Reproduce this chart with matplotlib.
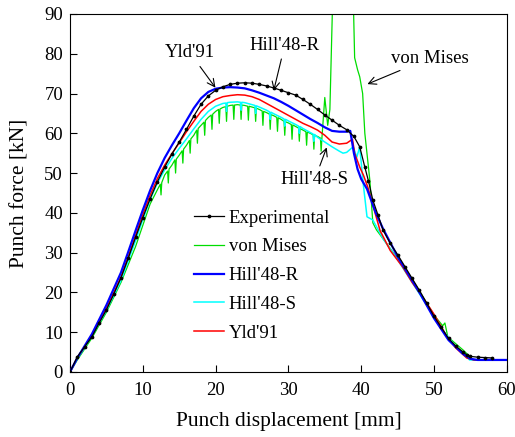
import numpy as np
import matplotlib.pyplot as plt

plt.rcParams['font.family'] = ['Liberation Serif', 'DejaVu Serif']

# Experimental punch force curve
exp_x = [0, 1, 2, 3, 4, 5, 6, 7, 8, 9, 10, 11, 12, 13, 14, 15, 16, 17, 18, 19,
         20, 21, 22, 23, 24, 25, 26, 27, 28, 29, 30, 31, 32, 33, 34, 35, 36, 37,
         38, 39, 39.8, 40.5, 41, 41.6, 42.3, 43, 44, 45, 46, 47, 48, 49, 50, 51,
         52, 53, 54, 54.5, 55, 56, 57, 58]
exp_y = [0, 3.8, 6.3, 8.8, 12.3, 15.6, 19.5, 23.7, 28.6, 33.8, 38.8, 43.5, 47.8,
         51.5, 54.8, 57.8, 61, 64.3, 67.3, 69.4, 70.8, 71.7, 72.3, 72.6, 72.7,
         72.6, 72.3, 71.9, 71.4, 70.8, 70.2, 69.6, 68.5, 67.3, 66, 64.6, 63.3,
         62, 60.9, 59.2, 56.6, 51.5, 48, 43.2, 39.5, 35.7, 32.3, 29.5, 26.5,
         23.5, 20.5, 17.3, 14, 11.2, 8.4, 6.5, 5, 4.3, 3.9, 3.7, 3.6, 3.5]

# von Mises (noisy, spikes off the top of the axes)
vm_x = [0, 1, 3, 5, 7, 9, 11, 12,
        12.4, 12.5, 12.6, 13, 13.4, 13.5, 13.6, 14, 14.4, 14.5, 14.6, 15,
        15.4, 15.5, 15.6, 16, 16.4, 16.5, 16.6, 17, 17.4, 17.5, 17.6, 18,
        18.4, 18.5, 18.6, 19, 19.4, 19.5, 19.6, 20, 20.4, 20.5, 20.6, 21,
        21.4, 21.5, 21.6, 22, 22.4, 22.5, 22.6, 23, 23.4, 23.5, 23.6, 24,
        24.4, 24.5, 24.6, 25, 25.4, 25.5, 25.6, 26, 26.4, 26.5, 26.6, 27,
        27.4, 27.5, 27.6, 28, 28.4, 28.5, 28.6, 29, 29.4, 29.5, 29.6, 30,
        30.4, 30.5, 30.6, 31, 31.4, 31.5, 31.6, 32, 32.4, 32.5, 32.6, 33,
        33.4, 33.5, 33.6, 34, 34.4, 34.5, 34.6, 35, 35.4, 35.7, 36.1, 36.6,
        38.4, 38.9, 39.1, 39.5, 39.8, 40.2, 40.5, 41.2, 41.6, 42.1, 44, 46, 48,
        50, 51.2, 51.5, 51.9, 54, 55.4, 60]
vm_y = [0, 3, 8.5, 15, 22.5, 31.5, 42.2, 45.8,
        47.2, 44.5, 47.6, 49.5, 50.5, 47.5, 51, 52, 53.3, 50, 53.5, 54.5,
        55.6, 52.5, 56, 57, 58.2, 55, 58.6, 59.5, 60.8, 57.5, 61.2, 62,
        62.8, 59.5, 63.2, 64, 64.6, 61, 64.8, 65.5, 66, 62.5, 66.1, 66.5,
        66.7, 63, 66.8, 67, 67.1, 63.5, 67.1, 67.2, 67.1, 63.5, 67.1, 67,
        66.8, 63.3, 66.8, 66.6, 66.4, 63, 66.3, 66, 65.6, 62, 65.5, 65.2,
        64.8, 61, 64.7, 64.4, 64, 60.5, 63.9, 63.5, 63, 59.5, 62.9, 62.6,
        62.2, 58.5, 62.1, 61.7, 61.3, 58, 61.2, 60.8, 60.4, 57, 60.3, 60,
        59.6, 56, 59.5, 59.2, 58.8, 55.5, 58.7, 69, 62, 66, 95, 130,
        130, 95, 79, 76, 74.2, 70, 60, 48, 37.5, 35.7, 31, 26, 20.3,
        14.3, 11.6, 12.3, 8.8, 5.5, 3.0, 3.0]

# Hill'48-R
hr_x = [0, 1, 3, 5, 7, 8, 9, 10, 11, 12, 13, 14, 15, 16, 17, 18, 19, 20, 21, 22,
        23, 24, 25, 26, 27, 28, 29, 30, 31, 32, 33, 34, 35, 36, 37, 38, 38.5,
        39, 39.5, 40, 40.8, 42, 43, 44, 45, 46, 48, 50, 52, 54, 55, 56, 60]
hr_y = [0, 3.5, 9.5, 16.8, 25, 30.2, 35.5, 40.7, 45.6, 50, 53.8, 57, 60, 63.2,
        66.3, 68.8, 70.4, 71.2, 71.5, 71.6, 71.5, 71.3, 70.8, 70.2, 69.5, 68.8,
        67.9, 66.9, 65.8, 64.7, 63.6, 62.6, 61.5, 60.6, 60.4, 60.4, 60.6, 55,
        51, 48.5, 46, 40, 36, 32.5, 29, 26, 20, 13.5, 8, 4.5, 3.3, 3, 3]

# Hill'48-S
hs_x = [0, 1, 3, 5, 7, 9, 10, 11, 12, 13, 14, 15, 16, 17, 18, 19, 20, 21,
        21.4, 21.5, 21.6, 22, 23, 23.4, 23.5, 23.6, 24, 25, 25.4, 25.5, 25.6,
        26, 27, 27.4, 27.5, 27.6, 28, 29, 29.4, 29.5, 29.6, 30, 31, 31.4,
        31.5, 31.6, 32, 33, 33.4, 33.5, 33.6, 34, 35, 36, 37, 37.5, 38, 38.9,
        39.4, 39.8, 40.3, 40.8, 41.6, 43, 44.9, 47, 49, 51, 53, 54.9, 60]
hs_y = [0, 3.3, 9, 15.5, 23, 33, 38.3, 43.3, 47.5, 50.8, 53.7, 56.2, 58.6, 61.1,
        63.5, 65.5, 66.8, 67.5, 67.6, 65.5, 67.7, 67.8, 67.9, 67.8, 65.8,
        67.8, 67.7, 67.2, 67, 65, 66.9, 66.6, 65.8, 65.4, 63.5, 65.3, 64.9,
        64, 63.6, 61.8, 63.5, 63.1, 62.2, 61.8, 60, 61.7, 61.2, 60.2, 59.8,
        58, 59.7, 59, 57.8, 56.6, 55.5, 55, 55.2, 56.6, 54, 56.6, 47, 39, 38.2,
        33.5, 28.5, 22.5, 16.8, 11, 6.3, 3, 3]

# Yld'91
yl_x = [0, 1, 3, 5, 7, 8, 9, 10, 11, 12, 13, 14, 15, 16, 17, 18, 19, 20, 21, 22,
        23, 24, 25, 26, 27, 28, 29, 30, 31, 32, 33, 34, 35, 36, 37, 38, 38.8,
        39.1, 39.8, 40.3, 40.9, 42.6, 44, 45.7, 47, 49, 50, 51.8, 53, 54.5,
        55.5, 60]
yl_y = [0, 3.5, 9.2, 16, 23.8, 29, 34.3, 39.6, 44.4, 48.6, 52, 54.9, 57.6, 60.4,
        63, 65.5, 67.3, 68.5, 69.2, 69.5, 69.7, 69.6, 69.2, 68.5, 67.5, 66.5,
        65.5, 64.5, 63.5, 62.5, 61.7, 60.8, 59.5, 57.8, 57.3, 57.5, 58.5, 55,
        51.5, 49.5, 46.5, 35.5, 30.5, 26.4, 22.5, 17.3, 14.5, 8.8, 6, 3.5, 3, 3]

fig = plt.figure(figsize=(5.15, 4.37), dpi=100)
ax = fig.add_axes([0.136, 0.149, 0.848, 0.819])

l_vm, = ax.plot(vm_x, vm_y, color='#00dd00', lw=0.9, label='von Mises', zorder=2)
l_hs, = ax.plot(hs_x, hs_y, color='#00ffff', lw=1.1, label="Hill'48-S", zorder=3)
l_yl, = ax.plot(yl_x, yl_y, color='#ff0000', lw=1.1, label="Yld'91", zorder=4)
l_hr, = ax.plot(hr_x, hr_y, color='#0000ff', lw=1.6, label="Hill'48-R", zorder=5)
l_ex, = ax.plot(exp_x, exp_y, color='black', lw=0.9, marker='o', ms=1.7,
                label='Experimental', zorder=6)

ax.set_xlim(0, 60)
ax.set_ylim(0, 90)
ax.set_xticks(np.arange(0, 61, 10))
ax.set_yticks(np.arange(0, 91, 10))
ax.tick_params(direction='in', length=5, labelsize=13.5, top=False, right=False)
ax.tick_params(axis='x', pad=7)
ax.tick_params(axis='y', pad=5)
ax.set_xlabel('Punch displacement [mm]', fontsize=15.5, labelpad=10)
ax.set_ylabel('Punch force [kN]', fontsize=15.5, labelpad=11)

arrow = dict(arrowstyle='->', color='black', lw=0.8)
ax.annotate("Yld'91", xy=(20.2, 70.9), xytext=(16.5, 80.2), fontsize=13.5,
            ha='center', va='center', arrowprops=arrow)
ax.annotate("Hill'48-R", xy=(27.9, 70.1), xytext=(29.5, 82.2), fontsize=13.5,
            ha='center', va='center', arrowprops=arrow)
ax.annotate("von Mises", xy=(40.5, 72.1), xytext=(49.4, 78.9), fontsize=13.5,
            ha='center', va='center', arrowprops=arrow)
ax.annotate("Hill'48-S", xy=(35.4, 57.1), xytext=(33.6, 48.3), fontsize=13.5,
            ha='center', va='center', arrowprops=arrow)

ax.legend(handles=[l_ex, l_vm, l_hr, l_hs, l_yl], loc='upper left',
          bbox_to_anchor=(0.262, 0.48), frameon=False, fontsize=13.5,
          handlelength=1.6, handletextpad=0.25, labelspacing=0.62, borderpad=0)

fig.savefig('out.png', dpi=100)
